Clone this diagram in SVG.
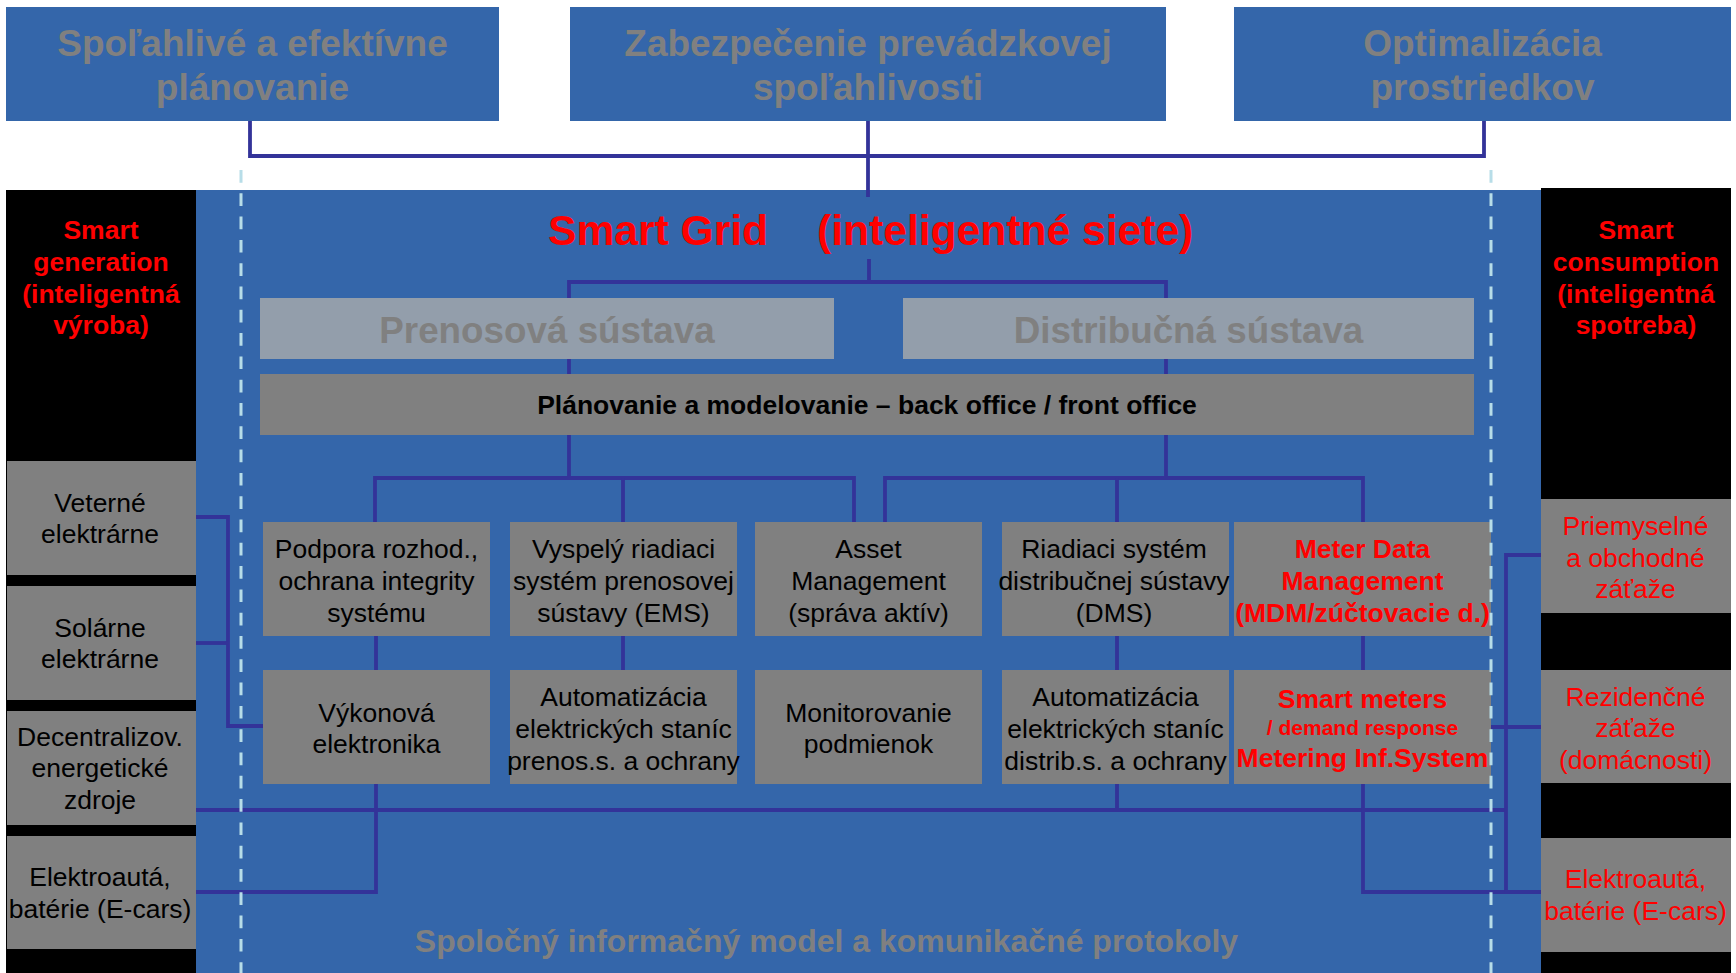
<svg xmlns="http://www.w3.org/2000/svg" width="1736" height="973" viewBox="0 0 1736 973">
<style>
.t{font-family:"Liberation Sans",Arial,sans-serif;font-size:26.5px;text-anchor:middle}
.k{fill:#000000}
.r{fill:#FF0000}
.g{fill:#808080}
.b{font-weight:bold}
.bx{fill:#808080}
.blue{fill:#3466AA}
.lt{fill:#939EAB}
.ln{stroke:#333399;stroke-width:3.8;fill:none;stroke-linejoin:miter}
.dash{stroke:#B7DDE8;stroke-width:3;stroke-dasharray:12.7 10.6;fill:none}
</style>
<rect x="0" y="0" width="1736" height="973" fill="#FFFFFF"/>
<!-- background areas -->
<rect x="196" y="190" width="1345" height="783" class="blue"/>
<rect x="6" y="190" width="190" height="783" fill="#000000"/>
<rect x="1541" y="188" width="190" height="785" fill="#000000"/>

<!-- connectors -->
<g id="connectors">
<path class="ln" d="M250,121 V156 H1484 V121"/>
<path class="ln" d="M868,121 V197"/>
<path class="ln" d="M869,259 V282"/>
<path class="ln" d="M569,478 V282 H1166 V478"/>
<path class="ln" d="M375,522 V478 H854 V522"/>
<path class="ln" d="M623,478 V522"/>
<path class="ln" d="M885,522 V478 H1363 V522"/>
<path class="ln" d="M1117,478 V522"/>
<path class="ln" d="M376,636 V670"/>
<path class="ln" d="M623,636 V670"/>
<path class="ln" d="M1117,636 V670"/>
<path class="ln" d="M1363,636 V670"/>
<path class="ln" d="M376,784 V892 H196"/>
<path class="ln" d="M1117,784 V810"/>
<path class="ln" d="M196,810 H1506"/>
<path class="ln" d="M1363,784 V892 H1541"/>
<path class="ln" d="M1541,555 H1506 V892"/>
<path class="ln" d="M1491,727 H1541"/>
<path class="ln" d="M196,517 H228 V726 H263"/>
<path class="ln" d="M196,643 H228"/>
</g>

<!-- top goals -->
<g id="goal1">
<rect x="6" y="7" width="493" height="114" class="blue"/>
<text class="t b g" style="font-size:37px" x="252.5" y="56">Spoľahlivé a efektívne</text>
<text class="t b g" style="font-size:37px" x="252.5" y="100">plánovanie</text>
</g>
<g id="goal2">
<rect x="570" y="7" width="596" height="114" class="blue"/>
<text class="t b g" style="font-size:37px" x="868" y="56">Zabezpečenie prevádzkovej</text>
<text class="t b g" style="font-size:37px" x="868" y="100">spoľahlivosti</text>
</g>
<g id="goal3">
<rect x="1234" y="7" width="497" height="114" class="blue"/>
<text class="t b g" style="font-size:37px" x="1482.5" y="56">Optimalizácia</text>
<text class="t b g" style="font-size:37px" x="1482.5" y="100">prostriedkov</text>
</g>

<!-- title -->
<g id="title">
<text class="t b r" style="font-size:42.6px;text-anchor:start" x="548" y="245">Smart Grid</text>
<text class="t b r" style="font-size:42.6px;text-anchor:start" x="817" y="245">(inteligentné siete)</text>
</g>

<!-- transmission / distribution -->
<g id="prenosova">
<rect x="260" y="298" width="574" height="61" class="lt"/>
<text class="t b g" style="font-size:36.8px" x="547" y="343">Prenosová sústava</text>
</g>
<g id="distribucna">
<rect x="903" y="298" width="571" height="61" class="lt"/>
<text class="t b g" style="font-size:36.8px" x="1188.5" y="343">Distribučná sústava</text>
</g>
<g id="planovanie">
<rect x="260" y="374" width="1214" height="61" class="bx"/>
<text class="t b k" x="867" y="414">Plánovanie a modelovanie – back office / front office</text>
</g>

<!-- row 1 -->
<g id="podpora">
<rect x="263" y="522" width="227" height="114" class="bx"/>
<text class="t k" x="376.5" y="558">Podpora rozhod.,</text>
<text class="t k" x="376.5" y="590">ochrana integrity</text>
<text class="t k" x="376.5" y="622">systému</text>
</g>
<g id="ems">
<rect x="510" y="522" width="227" height="114" class="bx"/>
<text class="t k" x="623.5" y="558">Vyspelý riadiaci</text>
<text class="t k" x="623.5" y="590">systém prenosovej</text>
<text class="t k" x="623.5" y="622">sústavy (EMS)</text>
</g>
<g id="asset">
<rect x="755" y="522" width="227" height="114" class="bx"/>
<text class="t k" x="868.5" y="558">Asset</text>
<text class="t k" x="868.5" y="590">Management</text>
<text class="t k" x="868.5" y="622">(správa aktív)</text>
</g>
<g id="dms">
<rect x="1002" y="522" width="227" height="114" class="bx"/>
<text class="t k" x="1114" y="558">Riadiaci systém</text>
<text class="t k" x="1114" y="590">distribučnej sústavy</text>
<text class="t k" x="1114" y="622">(DMS)</text>
</g>
<g id="mdm">
<rect x="1234" y="522" width="257" height="114" class="bx"/>
<text class="t b r" x="1362.5" y="558">Meter Data</text>
<text class="t b r" x="1362.5" y="590">Management</text>
<text class="t b r" x="1362.5" y="622">(MDM/zúčtovacie d.)</text>
</g>

<!-- row 2 -->
<g id="vykonova">
<rect x="263" y="670" width="227" height="114" class="bx"/>
<text class="t k" x="376.5" y="722">Výkonová</text>
<text class="t k" x="376.5" y="753">elektronika</text>
</g>
<g id="auto-prenos">
<rect x="510" y="670" width="227" height="114" class="bx"/>
<text class="t k" x="623.5" y="706">Automatizácia</text>
<text class="t k" x="623.5" y="738">elektrických staníc</text>
<text class="t k" x="623.5" y="770">prenos.s. a ochrany</text>
</g>
<g id="monitorovanie">
<rect x="755" y="670" width="227" height="114" class="bx"/>
<text class="t k" x="868.5" y="722">Monitorovanie</text>
<text class="t k" x="868.5" y="753">podmienok</text>
</g>
<g id="auto-distrib">
<rect x="1002" y="670" width="227" height="114" class="bx"/>
<text class="t k" x="1115.5" y="706">Automatizácia</text>
<text class="t k" x="1115.5" y="738">elektrických staníc</text>
<text class="t k" x="1115.5" y="770">distrib.s. a ochrany</text>
</g>
<g id="smart-meters">
<rect x="1234" y="670" width="257" height="114" class="bx"/>
<text class="t b r" x="1362.5" y="708">Smart meters</text>
<text class="t b r" style="font-size:21px" x="1362.5" y="735">/ demand  response</text>
<text class="t b r" x="1362.5" y="767">Metering Inf.System</text>
</g>

<!-- left column -->
<g id="smart-generation">
<text class="t b r" x="101" y="239">Smart</text>
<text class="t b r" x="101" y="271">generation</text>
<text class="t b r" x="101" y="303">(inteligentná</text>
<text class="t b r" x="101" y="334">výroba)</text>
</g>
<g id="veterne">
<rect x="7" y="461" width="189" height="114" class="bx"/>
<text class="t k" x="100" y="512">Veterné</text>
<text class="t k" x="100" y="543">elektrárne</text>
</g>
<g id="solarne">
<rect x="7" y="586" width="189" height="114" class="bx"/>
<text class="t k" x="100" y="637">Solárne</text>
<text class="t k" x="100" y="668">elektrárne</text>
</g>
<g id="decentralizov">
<rect x="7" y="711" width="189" height="114" class="bx"/>
<text class="t k" x="100" y="746">Decentralizov.</text>
<text class="t k" x="100" y="777">energetické</text>
<text class="t k" x="100" y="809">zdroje</text>
</g>
<g id="elektroauta-gen">
<rect x="7" y="836" width="189" height="113" class="bx"/>
<text class="t k" x="100" y="886">Elektroautá,</text>
<text class="t k" x="100" y="918">batérie (E-cars)</text>
</g>

<!-- right column -->
<g id="smart-consumption">
<text class="t b r" x="1636" y="239">Smart</text>
<text class="t b r" x="1636" y="271">consumption</text>
<text class="t b r" x="1636" y="303">(inteligentná</text>
<text class="t b r" x="1636" y="334">spotreba)</text>
</g>
<g id="priemyselne">
<rect x="1541" y="499" width="190" height="114" class="bx"/>
<text class="t r" x="1635.5" y="535">Priemyselné</text>
<text class="t r" x="1635.5" y="567">a obchodné</text>
<text class="t r" x="1635.5" y="598">záťaže</text>
</g>
<g id="rezidencne">
<rect x="1541" y="670" width="190" height="113" class="bx"/>
<text class="t r" x="1635.5" y="706">Rezidenčné</text>
<text class="t r" x="1635.5" y="737">záťaže</text>
<text class="t r" x="1635.5" y="769">(domácnosti)</text>
</g>
<g id="elektroauta-cons">
<rect x="1541" y="838" width="190" height="114" class="bx"/>
<text class="t r" x="1635.5" y="888">Elektroautá,</text>
<text class="t r" x="1635.5" y="920">batérie (E-cars)</text>
</g>

<!-- bottom label -->
<g id="spolocny">
<text class="t b g" style="font-size:32px" x="826.5" y="952">Spoločný informačný model a komunikačné protokoly</text>
</g>

<!-- boundary dashed lines -->
<g id="boundaries">
<path class="dash" d="M241,170 V973"/>
<path class="dash" d="M1491,170 V973"/>
</g>
</svg>
